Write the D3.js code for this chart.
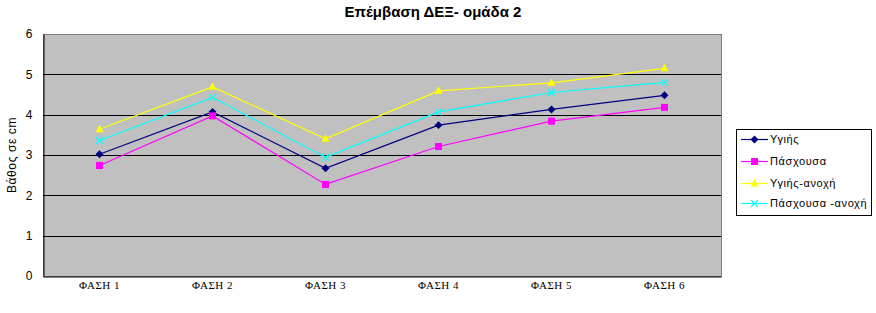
<!DOCTYPE html>
<html>
<head>
<meta charset="utf-8">
<script src="https://cdn.jsdelivr.net/npm/d3@7"></script>
<style>
  body { margin: 0; background: #fff; }
  svg { display: block; }
</style>
</head>
<body>
<div id="chart"></div>
<script>
// Data
const categories = ["ΦΑΣΗ 1", "ΦΑΣΗ 2", "ΦΑΣΗ 3", "ΦΑΣΗ 4", "ΦΑΣΗ 5", "ΦΑΣΗ 6"];
const seriesNames = ["Υγιής", "Πάσχουσα", "Υγιής-ανοχή", "Πάσχουσα -ανοχή"];
const ygiis = [3.02, 4.07, 2.67, 3.74, 4.13, 4.48];
const pasxousa = [2.74, 3.97, 2.27, 3.21, 3.84, 4.18];
const ygiisAnoxi = [3.64, 4.69, 3.40, 4.59, 4.79, 5.15];
const pasxousaAnoxi = [3.36, 4.43, 2.94, 4.07, 4.55, 4.80];
const yTicks = [0, 1, 2, 3, 4, 5, 6];

const series = [
    { name: seriesNames[0], values: ygiis, color: "#000080", marker: "diamond" },
    { name: seriesNames[1], values: pasxousa, color: "#FF00FF", marker: "square" },
    { name: seriesNames[2], values: ygiisAnoxi, color: "#FFFF00", marker: "triangle" },
    { name: seriesNames[3], values: pasxousaAnoxi, color: "#00FFFF", marker: "cross" }
];

const width = 876, height = 313;
const plot = { left: 43, top: 34, right: 721, bottom: 276 };
const sans = "'Liberation Sans', Arial, sans-serif";

const svg = d3.select("#chart").append("svg")
    .attr("width", width)
    .attr("height", height);

const xScale = d3.scaleBand()
    .domain(categories)
    .range([plot.left, plot.right]);

const yScale = d3.scaleLinear()
    .domain([0, 6])
    .range([plot.bottom, plot.top]);

const xPos = c => xScale(c) + xScale.bandwidth() / 2;

// Plot area background
svg.append("rect")
    .attr("x", plot.left)
    .attr("y", plot.top)
    .attr("width", plot.right - plot.left)
    .attr("height", plot.bottom - plot.top)
    .attr("fill", "#C0C0C0")
    .attr("stroke", "#808080")
    .attr("stroke-width", 1)
    .attr("shape-rendering", "crispEdges");

// Gridlines
svg.append("g")
    .selectAll("line")
    .data(yTicks.filter(t => t > 0 && t < 6))
    .enter().append("line")
    .attr("x1", plot.left)
    .attr("x2", plot.right)
    .attr("y1", d => Math.round(yScale(d)) + 0.5)
    .attr("y2", d => Math.round(yScale(d)) + 0.5)
    .attr("stroke", "#000")
    .attr("stroke-width", 1);

// Y axis
const yAxis = svg.append("g")
    .attr("transform", `translate(${plot.left + 0.5},0)`)
    .call(d3.axisLeft(yScale).tickValues(yTicks).tickFormat(d3.format("d")).tickSize(0).tickPadding(11));
yAxis.select(".domain").attr("stroke", "#000");
yAxis.selectAll("text")
    .attr("font-family", sans)
    .attr("font-size", 12)
    .attr("fill", "#000");

// X axis
const xAxis = svg.append("g")
    .attr("transform", `translate(0,${plot.bottom + 0.5})`)
    .call(d3.axisBottom(xScale).tickSize(0).tickPadding(5));
xAxis.select(".domain").attr("stroke", "#000");
xAxis.selectAll("text")
    .attr("font-family", "'Liberation Serif', 'Times New Roman', serif")
    .attr("font-size", 11)
    .attr("letter-spacing", 0.5)
    .attr("fill", "#000");

// Lines
const line = d3.line()
    .x((d, i) => xPos(categories[i]))
    .y(d => yScale(d));

svg.append("g")
    .selectAll("path")
    .data(series)
    .enter().append("path")
    .attr("d", d => line(d.values))
    .attr("fill", "none")
    .attr("stroke", d => d.color)
    .attr("stroke-width", 1.2);

// Marker drawing
function drawMarker(g, type, color, x, y) {
    if (type === "diamond") {
        g.append("path")
            .attr("d", d3.symbol().type(d3.symbolDiamond2).size(40)())
            .attr("transform", `translate(${x},${y})`)
            .attr("fill", color);
    } else if (type === "square") {
        g.append("rect")
            .attr("x", x - 3.5).attr("y", y - 3.5)
            .attr("width", 7).attr("height", 7)
            .attr("fill", color);
    } else if (type === "triangle") {
        g.append("path")
            .attr("d", `M${x},${y - 4.5}L${x + 4},${y + 3}L${x - 4},${y + 3}Z`)
            .attr("fill", color);
    } else if (type === "cross") {
        g.append("path")
            .attr("d", `M${x - 3.5},${y - 3.5}L${x + 3.5},${y + 3.5}M${x + 3.5},${y - 3.5}L${x - 3.5},${y + 3.5}`)
            .attr("stroke", color)
            .attr("stroke-width", 1.2)
            .attr("fill", "none");
    }
}

const markers = svg.append("g");
series.forEach(s => {
    s.values.forEach((v, i) => drawMarker(markers, s.marker, s.color, xPos(categories[i]), yScale(v)));
});

// Title
svg.append("text")
    .attr("x", 433)
    .attr("y", 17)
    .attr("text-anchor", "middle")
    .attr("font-family", sans)
    .attr("font-size", 15)
    .attr("font-weight", "bold")
    .text("Επέμβαση ΔΕΞ- ομάδα 2");

// Y label
svg.append("text")
    .attr("transform", `translate(16, ${(plot.top + plot.bottom) / 2}) rotate(-90)`)
    .attr("text-anchor", "middle")
    .attr("font-family", sans)
    .attr("font-size", 12)
    .attr("letter-spacing", 0.6)
    .text("Βάθος σε cm");

// Legend
const legend = svg.append("g");
legend.append("rect")
    .attr("x", 736.5)
    .attr("y", 129.5)
    .attr("width", 135)
    .attr("height", 86)
    .attr("fill", "#fff")
    .attr("stroke", "#000");

const legendY = [139, 161, 183, 203];
series.forEach((s, i) => {
    const y = legendY[i];
    legend.append("line")
        .attr("x1", 741).attr("x2", 768)
        .attr("y1", y + 0.5).attr("y2", y + 0.5)
        .attr("stroke", s.color)
        .attr("stroke-width", 1.2);
    drawMarker(legend, s.marker, s.color, 754.5, y + 0.5);
    legend.append("text")
        .attr("x", 770)
        .attr("y", y + 4)
        .attr("font-family", sans)
        .attr("font-size", 11)
        .attr("letter-spacing", 0.6)
        .text(s.name);
});
</script>
</body>
</html>
